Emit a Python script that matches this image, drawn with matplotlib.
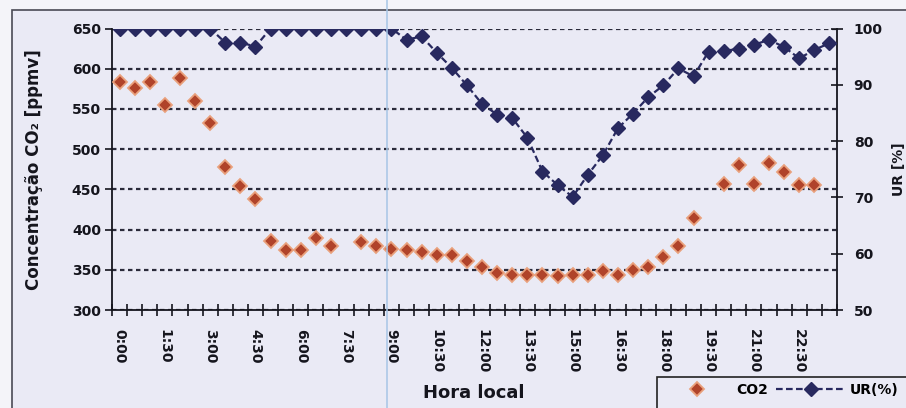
import numpy as np
import matplotlib.pyplot as plt
from matplotlib.lines import Line2D
from matplotlib.patches import Rectangle

# Half-hourly readings over one day (48 slots, 0:00 .. 23:30)
slots = np.arange(48)
tick_pos = np.arange(0, 48, 3)
tick_labels = ["0:00", "1:30", "3:00", "4:30", "6:00", "7:30", "9:00", "10:30",
               "12:00", "13:30", "15:00", "16:30", "18:00", "19:30", "21:00", "22:30"]

# CO2 concentration [ppmv]; nan where no reading was taken
co2 = [584, 576, 584, 555, 588, 560, 533, 478, 454, 438,
       386, 375, 375, 389, 379, np.nan, 385, 380, 376, 375,
       372, 369, 368, 361, 354, 346, 344, 344, 344, 342,
       344, 344, 349, 344, 350, 354, 366, 380, 414, np.nan,
       457, 480, 457, 483, 472, 455, 455, np.nan]

# Relative humidity [%]
ur = [100, 100, 100, 100, 100, 100, 100, 97.5, 97.5, 96.8,
      100, 100, 100, 100, 100, 100, 100, 100, 100, 98.0,
      98.6, 95.7, 93.0, 89.9, 86.6, 84.7, 84.1, 80.6, 74.6, 72.2,
      70.1, 74.0, 77.5, 82.3, 84.9, 87.8, 89.9, 92.9, 91.5, 95.9,
      96.0, 96.4, 97.1, 98.0, 96.7, 94.7, 96.2, 97.4]

W, H = 906, 408
bg = '#eaeaf5'
ink = '#15151d'
co2_color = '#b0432a'
co2_halo = '#e9a07c'
ur_color = '#28295f'

plt.rcParams['font.family'] = 'DejaVu Sans'
plt.rcParams['font.weight'] = 'bold'
plt.rcParams['axes.labelweight'] = 'bold'

fig = plt.figure(figsize=(W / 100, H / 100), dpi=100, facecolor='#f4f4f9')

# chart area frame
fig.patches.append(Rectangle((12 / W, -0.1), 1.0, 1.1 - 10 / H, transform=fig.transFigure,
                             facecolor=bg, edgecolor='#4a4a55', lw=1.2, zorder=-1))
# legend box, running off the lower right corner
fig.patches.append(Rectangle((657 / W, -0.1), 1.0, 0.1 + 1 - 377 / H, transform=fig.transFigure,
                             facecolor=bg, edgecolor='#222', lw=1.2, zorder=1))

ax = fig.add_axes([112 / W, 1 - 310 / H, (837 - 112) / W, (310 - 28.5) / H])
ax.set_facecolor('none')

ax.plot(slots, co2, ls='none', marker='D', ms=7, color=co2_color,
        mec=co2_halo, mew=1.3, zorder=3)

ax.set_xlim(-0.5, 47.5)
ax.set_ylim(300, 650)
ax.set_yticks(range(300, 651, 50))
ax.yaxis.grid(True, ls=(0, (2, 1.6)), lw=1.6, color='#2a2a3a')
ax.set_axisbelow(True)

ax.set_xticks(tick_pos)
ax.set_xticklabels(tick_labels, rotation=-90, fontsize=10, color=ink)
ax.set_xticks(np.arange(-0.5, 48, 1), minor=True)
ax.tick_params(axis='x', which='major', length=0, pad=14)
ax.tick_params(axis='x', which='minor', direction='inout', length=8, width=1.2, color=ink)
ax.tick_params(axis='y', direction='out', length=5, width=1.2, color=ink,
               labelsize=10, labelcolor=ink, pad=3)

for side in ('top', 'right'):
    ax.spines[side].set_visible(False)
for side in ('left', 'bottom'):
    ax.spines[side].set_linewidth(1.3)
    ax.spines[side].set_color(ink)

ax.set_ylabel('Concentração CO₂ [ppmv]', fontsize=12, color=ink)
ax.yaxis.set_label_coords((43 - 112) / 725, 0.5)
ax.set_xlabel('Hora local', fontsize=13, color=ink)
ax.xaxis.set_label_coords((474 - 112) / 725, (310 - 384) / 281.5)

ax2 = ax.twinx()
ax2.set_ylim(50, 100)
ax2.set_yticks(range(50, 101, 10))
ax2.plot(slots, ur, ls=(0, (3, 1.5)), lw=1.6, marker='D', ms=7.5, color=ur_color,
         mec=ur_color, zorder=4)
for side in ('top', 'left', 'bottom'):
    ax2.spines[side].set_visible(False)
ax2.spines['right'].set_linewidth(1.3)
ax2.spines['right'].set_color(ink)
ax2.tick_params(axis='y', direction='inout', length=8, width=1.2, color=ink,
                labelsize=10, labelcolor=ink, pad=8)
ax2.set_ylabel('UR [%]', fontsize=10, color=ink)
ax2.yaxis.set_label_coords((892 - 112) / 725, 0.5)

# faint vertical streak across the sheet
fig.add_artist(Line2D([387 / W, 387 / W], [0, 1], transform=fig.transFigure,
                      color='#a8c6e6', lw=1.4, alpha=0.8))

handles = [
    Line2D([], [], ls='none', marker='D', ms=7, color=co2_color, mec=co2_halo, mew=1.3),
    Line2D([], [], ls=(0, (3, 1.5)), lw=1.6, marker='D', ms=7.5, color=ur_color),
]
fig.legend(handles, ['CO2', 'UR(%)'], loc='upper left',
           bbox_to_anchor=(657 / W, 1 - 377 / H), ncol=2, frameon=False, fontsize=10,
           handlelength=5.0, handletextpad=0.3, columnspacing=0.6,
           borderpad=0.4, borderaxespad=0, numpoints=1)

fig.savefig('out.png', dpi=100, facecolor=fig.get_facecolor())
